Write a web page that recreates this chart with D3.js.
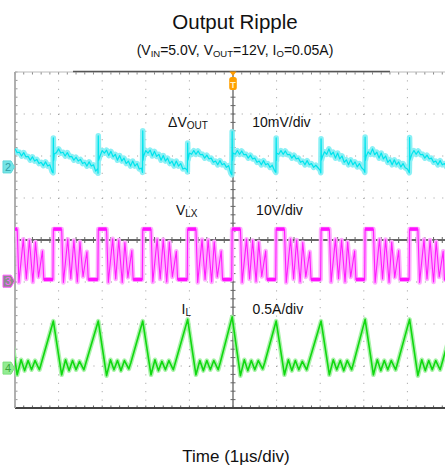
<!DOCTYPE html>
<html><head><meta charset="utf-8">
<script src="https://cdn.jsdelivr.net/npm/d3@7"></script>
<style>
html,body{margin:0;padding:0;background:#fff;}
svg{display:block;font-family:"Liberation Sans",Arial,sans-serif;}
</style>
</head><body>
<svg id="chart" width="445" height="472"></svg>
<script>
// ---------------- data ----------------
const chartTitle = "Output Ripple";
const subtitleParts = [["(V",""],["IN","sub"],["=5.0V, V",""],["OUT","sub"],["=12V, I",""],["O","sub"],["=0.05A)",""]];
const xAxisTitle = "Time (1µs/div)";
const timeDivisions = [0,1,2,3,4,5,6,7,8,9,10];      // µs (1 µs/div)
const vertDivisions = [-4,-3,-2,-1,0,1,2,3,4];
const channelIds = ["2","3","4"];
const channelNames = [["ΔV","OUT"],["V","LX"],["I","L"]];
const channelScaleLabels = ["10mV/div","10V/div","0.5A/div"];

// Inductor current I_L (A) vs time (µs)
const ilTime = [-0.14,0.05,0.14,0.22,0.30,0.38,0.46,0.56,0.61,
  0.88,1.07,1.16,1.24,1.32,1.40,1.48,1.58,1.63,
  1.91,2.10,2.19,2.27,2.35,2.43,2.51,2.61,2.66,
  2.93,3.12,3.21,3.29,3.37,3.45,3.53,3.63,3.68,
  3.96,4.15,4.24,4.32,4.40,4.48,4.56,4.66,4.71,
  4.98,5.17,5.26,5.34,5.42,5.50,5.58,5.68,5.73,
  5.99,6.18,6.27,6.35,6.43,6.51,6.59,6.69,6.74,
  7.02,7.21,7.30,7.38,7.46,7.54,7.62,7.72,7.77,
  8.03,8.22,8.31,8.39,8.47,8.55,8.63,8.73,8.78,
  9.05,9.24,9.33,9.41,9.49,9.57,9.65,9.75,9.80,
  10.07];
const ilAmps = [0.57,-0.08,0.10,-0.03,0.09,-0.02,0.09,-0.02,0.07,
  0.56,-0.08,0.10,-0.03,0.09,-0.02,0.08,-0.02,0.07,
  0.56,-0.09,0.10,-0.02,0.09,-0.03,0.09,-0.01,0.07,
  0.56,-0.08,0.10,-0.03,0.08,-0.02,0.09,-0.02,0.07,
  0.58,-0.08,0.09,-0.03,0.09,-0.02,0.09,-0.02,0.07,
  0.61,-0.09,0.10,-0.03,0.09,-0.02,0.09,-0.01,0.07,
  0.56,-0.08,0.10,-0.03,0.09,-0.02,0.08,-0.02,0.07,
  0.56,-0.08,0.10,-0.02,0.09,-0.03,0.09,-0.02,0.07,
  0.58,-0.08,0.10,-0.03,0.09,-0.02,0.09,-0.02,0.07,
  0.58,-0.09,0.10,-0.03,0.09,-0.02,0.09,-0.02,0.07,
  0.57];

// Switch node V_LX (V) vs time (µs)
const lxTime = [-0.15,-0.14,0.05,0.09,0.19,0.26,0.33,0.41,0.47,0.54,0.63,0.66,
  0.87,0.88,1.07,1.11,1.21,1.28,1.35,1.43,1.49,1.56,1.65,1.68,
  1.90,1.91,2.10,2.14,2.24,2.31,2.38,2.46,2.52,2.59,2.68,2.71,
  2.92,2.93,3.12,3.16,3.26,3.33,3.40,3.48,3.54,3.61,3.70,3.73,
  3.95,3.96,4.15,4.19,4.29,4.36,4.43,4.51,4.57,4.64,4.73,4.76,
  4.97,4.98,5.17,5.21,5.31,5.38,5.45,5.53,5.59,5.66,5.75,5.78,
  5.98,5.99,6.18,6.22,6.32,6.39,6.46,6.54,6.60,6.67,6.76,6.79,
  7.01,7.02,7.21,7.25,7.35,7.42,7.49,7.57,7.63,7.70,7.79,7.82,
  8.02,8.03,8.22,8.26,8.36,8.43,8.50,8.58,8.64,8.71,8.80,8.83,
  9.04,9.05,9.24,9.28,9.38,9.45,9.52,9.60,9.66,9.73,9.82,9.85,
  10.06,10.07];
const lxVolts = [0.4,12.4,12.4,-0.3,10.0,0.5,9.8,-0.2,9.3,1.0,7.2,0.4,
  0.4,12.4,12.4,-0.3,10.0,0.6,9.7,-0.2,9.4,1.1,7.0,0.4,
  0.4,12.4,12.4,-0.3,10.1,0.5,9.8,-0.3,9.2,0.9,7.3,0.4,
  0.4,12.4,12.4,-0.2,10.0,0.5,9.9,-0.2,9.3,1.0,7.1,0.4,
  0.4,12.4,12.4,-0.3,9.9,0.4,9.8,-0.2,9.4,1.0,7.2,0.4,
  0.4,12.4,12.4,-0.3,10.0,0.5,9.7,-0.1,9.3,1.1,7.2,0.4,
  0.4,12.4,12.4,-0.3,10.1,0.5,9.8,-0.2,9.2,1.0,7.0,0.4,
  0.4,12.4,12.4,-0.2,10.0,0.6,9.8,-0.2,9.3,1.0,7.2,0.4,
  0.4,12.4,12.4,-0.3,10.0,0.5,9.9,-0.3,9.3,0.9,7.3,0.4,
  0.4,12.4,12.4,-0.3,9.9,0.5,9.8,-0.2,9.4,1.0,7.1,0.4,
  0.4,12.4];

// Output ripple ΔV_OUT (mV), scope samples every 0.05 µs from t = 0
const dvSampleStep = 0.05;
const dvMillivolts = [
  4.3,3.4,3.5,2.6,3.4,2.4,2.5,1.6,2.4,1.4,1.8,0.8,1.1,0.3,1.2,0.2,0.5,-1.1,
  3.1,3.4,4.3,3.3,3.5,2.6,3.4,2.4,2.5,1.6,2.3,1.4,1.8,0.8,1.1,0.2,1.2,0.2,0.5,-1.0,-0.4,
  2.6,3.9,3.3,4.0,2.7,3.7,2.4,3.0,1.6,2.7,1.4,2.1,0.8,1.4,0.2,1.4,0.2,0.8,-0.5,-0.3,
  2.6,3.9,3.3,4.0,2.6,3.7,2.5,3.0,1.6,2.7,1.4,2.1,0.8,1.4,0.2,1.4,0.2,0.8,-0.5,-0.3,-0.8,
  3.3,3.0,3.9,3.0,3.8,2.9,3.0,2.1,2.8,1.9,2.1,1.1,1.4,0.5,1.5,0.5,0.8,-0.1,0.3,-1.5,
  3.3,3.0,3.9,3.0,3.8,2.9,3.0,2.1,2.8,1.9,2.1,1.1,1.4,0.5,1.5,0.5,0.8,-0.1,0.4,-0.8,
  3.3,3.0,3.9,3.0,3.8,2.9,3.0,2.1,2.8,1.9,2.1,1.1,1.4,0.5,1.5,0.5,0.8,-0.1,0.4,-0.2,-0.8,
  2.4,3.6,3.0,4.3,2.9,3.5,2.1,3.3,1.9,2.6,1.1,1.7,0.5,1.7,0.5,1.2,0.0,0.8,-0.2,-0.7,
  2.4,3.6,3.0,4.3,2.9,3.5,2.1,3.3,1.9,2.6,1.1,1.7,0.5,1.7,0.5,1.2,0.0,0.8,-0.2,-0.5,
  2.2,3.0,3.9,3.0,3.8,2.9,3.0,2.1,2.8,1.9,2.1,1.1,1.4,0.5,1.5,0.5,0.8,0.0,0.9,0.9];
// switching spikes on ΔV_OUT
const dvSpikeTime = [0.88,1.91,2.93,3.96,4.98,5.99,7.02,8.03,9.05];
const dvSpikeDip  = [-1.4,-1.5,-1.3,-1.2,-1.9,-1.3,-1.4,-1.3,-1.4];
const dvSpikeTop  = [6.9,7.4,8.6,5.7,8.4,6.9,6.7,7.1,7.0];

// ---------------- chart ----------------
const svg = d3.select("#chart");
const W = 445, H = 472;
const x = d3.scaleLinear().domain([0,10]).range([15,451]);
const yDiv = d3.scaleLinear().domain([-4,4]).range([408,72]);
const yDV = d3.scaleLinear().domain([0,10]).range([yDiv(1.74), yDiv(2.74)]);   // 10 mV/div
const yLX = d3.scaleLinear().domain([0,10]).range([yDiv(-0.98), yDiv(0.02)]);  // 10 V/div
const yIL = d3.scaleLinear().domain([0,0.5]).range([yDiv(-3.05), yDiv(-2.05)]); // 0.5 A/div

const plotL = x(0), plotR = W, plotT = yDiv(4), plotB = yDiv(-4);
const minorX = d3.range(0, 10.001, 0.2);
const minorY = d3.range(-4, 4.001, 0.2);

svg.append("rect").attr("width",W).attr("height",H).attr("fill","#fff");

svg.append("defs").append("clipPath").attr("id","plotclip")
  .append("rect").attr("x",plotL).attr("y",plotT-1).attr("width",plotR-plotL).attr("height",plotB-plotT+2);

const grid = svg.append("g");
// dotted grid
timeDivisions.filter(d => d>0 && d<10 && d!==5).forEach(d => {
  grid.append("line").attr("x1",x(d)).attr("x2",x(d)).attr("y1",plotT).attr("y2",plotB)
    .attr("stroke","#9a9a9a").attr("stroke-width",1).attr("stroke-dasharray","1,7.4");
});
vertDivisions.filter(d => d>-4 && d<4 && d!==0).forEach(d => {
  grid.append("line").attr("x1",plotL).attr("x2",plotR).attr("y1",yDiv(d)).attr("y2",yDiv(d))
    .attr("stroke","#9a9a9a").attr("stroke-width",1).attr("stroke-dasharray","1,7.72");
});
// center axes with minor ticks
grid.append("line").attr("x1",x(5)).attr("x2",x(5)).attr("y1",plotT).attr("y2",plotB)
  .attr("stroke","#555").attr("stroke-width",1.2);
grid.append("line").attr("x1",plotL).attr("x2",plotR).attr("y1",yDiv(0)).attr("y2",yDiv(0))
  .attr("stroke","#666").attr("stroke-width",2);
grid.selectAll(".tcy").data(minorY).join("line")
  .attr("x1",x(5)-2.5).attr("x2",x(5)+2.5).attr("y1",d=>yDiv(d)).attr("y2",d=>yDiv(d))
  .attr("stroke","#666").attr("stroke-width",1);
grid.selectAll(".tcx").data(minorX).join("line")
  .attr("x1",d=>x(d)).attr("x2",d=>x(d)).attr("y1",yDiv(0)-3).attr("y2",yDiv(0)+3)
  .attr("stroke","#666").attr("stroke-width",1);
// border ticks
grid.selectAll(".ttop").data(minorX).join("line")
  .attr("x1",d=>x(d)).attr("x2",d=>x(d)).attr("y1",plotT).attr("y2",plotT+2.5)
  .attr("stroke","#888").attr("stroke-width",1);
grid.selectAll(".tbot").data(minorX).join("line")
  .attr("x1",d=>x(d)).attr("x2",d=>x(d)).attr("y1",plotB-2.5).attr("y2",plotB)
  .attr("stroke","#666").attr("stroke-width",1);
grid.selectAll(".tleft").data(minorY).join("line")
  .attr("x1",plotL).attr("x2",plotL+2.5).attr("y1",d=>yDiv(d)).attr("y2",d=>yDiv(d))
  .attr("stroke","#999").attr("stroke-width",1);
// borders
grid.append("line").attr("x1",plotL).attr("x2",plotR).attr("y1",plotT).attr("y2",plotT)
  .attr("stroke","#bbb").attr("stroke-width",1);
grid.append("line").attr("x1",x(1.33)).attr("x2",x(8.6)).attr("y1",plotT-0.5).attr("y2",plotT-0.5)
  .attr("stroke","#555").attr("stroke-width",1.6);
grid.append("line").attr("x1",plotL).attr("x2",plotR).attr("y1",plotB).attr("y2",plotB)
  .attr("stroke","#444").attr("stroke-width",1.8);
grid.append("line").attr("x1",plotL).attr("x2",plotL).attr("y1",plotT).attr("y2",plotB)
  .attr("stroke","#a8a8a8").attr("stroke-width",1.8);

// traces
const traces = svg.append("g").attr("clip-path","url(#plotclip)");
function drawTrace(pts, xs, ys, core, halo, haloW, coreW, haloOp) {
  const line = d3.line().x(d=>xs(d[0])).y(d=>ys(d[1]));
  traces.append("path").datum(pts).attr("d",line).attr("fill","none")
    .attr("stroke",halo).attr("stroke-width",haloW).attr("stroke-linejoin","round").attr("opacity",haloOp);
  traces.append("path").datum(pts).attr("d",line).attr("fill","none")
    .attr("stroke",core).attr("stroke-width",coreW).attr("stroke-linejoin","round");
}
// ΔVout
const dvPts = dvMillivolts.map((v,i)=>[i*dvSampleStep, v]);
dvSpikeTime.forEach((t,i)=>{
  dvPts.push([t-0.006, dvSpikeDip[i]], [t, dvSpikeTop[i]], [t+0.008, 1.6]);
});
dvPts.sort((a,b)=>a[0]-b[0]);
drawTrace(dvPts, x, yDV, "#00e4ec", "#7eeef4", 5.5, 1.2, 0.9);
// V_LX
const lxPts = lxTime.map((t,i)=>[t,lxVolts[i]]);
drawTrace(lxPts, x, yLX, "#ff1cff", "#ffa8ff", 4.5, 1.1, 0.95);
// flat plateaus of V_LX appear as thick bright bands on the scope
const lxFlat = lxPts.slice(1).map((p,i)=>[lxPts[i],p]).filter(([a,b])=>a[1]===b[1]);
traces.selectAll(".lxflat").data(lxFlat).join("line")
  .attr("x1",d=>x(d[0][0])).attr("x2",d=>x(d[1][0]))
  .attr("y1",d=>yLX(d[0][1])).attr("y2",d=>yLX(d[1][1]))
  .attr("stroke","#ff10ff").attr("stroke-width",3.5);
// I_L
drawTrace(ilTime.map((t,i)=>[t,ilAmps[i]]), x, yIL, "#10d810", "#9cf09c", 4.5, 1.6, 0.85);

// channel markers
function marker(yc, fill, stroke, txtCol, label) {
  const g = svg.append("g");
  g.append("path").attr("d",`M3,${yc-6} L11,${yc-6} L14.5,${yc} L11,${yc+6} L3,${yc+6} Z`)
    .attr("fill",fill).attr("stroke",stroke).attr("stroke-width",1).attr("stroke-linejoin","round");
  g.append("text").attr("x",8).attr("y",yc+4).attr("text-anchor","middle")
    .attr("font-size",11).attr("fill",txtCol).text(label);
}
marker(yDV(0), "#74e4e6", "#5fd8da", "#2e9ea6", channelIds[0]);
marker(yLX(0), "#8c8c8c", "#ff55ff", "#ff66ff", channelIds[1]);
marker(yIL(0), "#92ec92", "#7be07b", "#3aa63a", channelIds[2]);

// trigger marker
const tx = x(5);
svg.append("path").attr("d",`M${tx-3.5},${plotT-0.5} L${tx+3.5},${plotT-0.5} L${tx},${plotT+4} Z`).attr("fill","#ff9c00");
svg.append("rect").attr("x",tx-3.8).attr("y",plotT+5).attr("width",7.6).attr("height",13).attr("rx",2.5)
  .attr("fill","#ffa000");
svg.append("text").attr("x",tx).attr("y",plotT+15.5).attr("text-anchor","middle")
  .attr("font-size",9).attr("font-weight","bold").attr("fill","#fff3d0").text("T");

// channel labels
const labelPos = [[3.51, yDiv(2.7)],[3.69, yDiv(0.6)],[3.82, yDiv(-1.76)]];
const scalePos = [5.44, 5.53, 5.45];
channelNames.forEach((nm,i)=>{
  const t = svg.append("text").attr("x",x(labelPos[i][0])).attr("y",labelPos[i][1])
    .attr("font-size",14).attr("fill","#111");
  t.append("tspan").text(nm[0]);
  t.append("tspan").attr("font-size",10).attr("dy",2).text(nm[1]);
  svg.append("text").attr("x",x(scalePos[i])).attr("y",labelPos[i][1])
    .attr("font-size",14).attr("fill","#111").text(channelScaleLabels[i]);
});

// titles
svg.append("text").attr("x",235).attr("y",29).attr("text-anchor","middle")
  .attr("font-size",20.5).attr("fill","#111").text(chartTitle);
const st = svg.append("text").attr("x",235).attr("y",55).attr("text-anchor","middle")
  .attr("font-size",14).attr("fill","#111");
subtitleParts.forEach(([s,k],i)=>{
  const prev = i>0 ? subtitleParts[i-1][1] : "";
  const ts = st.append("tspan").text(s);
  if (k==="sub") ts.attr("font-size",9.5).attr("dy",2);
  else if (prev==="sub") ts.attr("dy",-2);
});
svg.append("text").attr("x",236).attr("y",462).attr("text-anchor","middle")
  .attr("font-size",17).attr("fill","#111").text(xAxisTitle);
</script>
</body></html>
